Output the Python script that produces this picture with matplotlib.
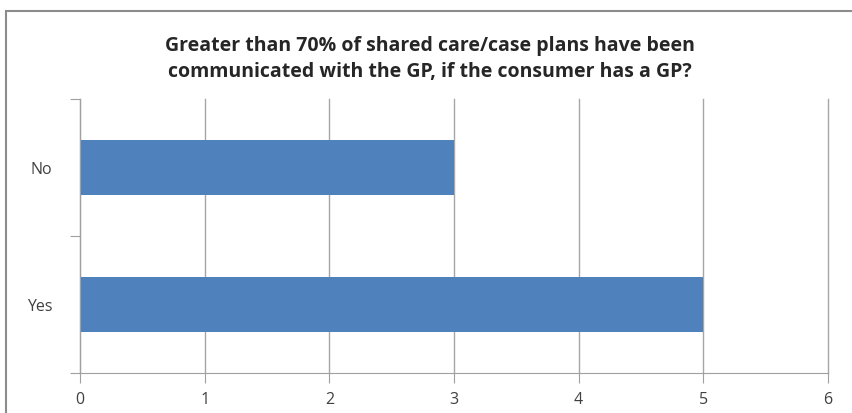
import matplotlib
matplotlib.use("Agg")
import matplotlib.pyplot as plt
from matplotlib.patches import Rectangle

categories = ["Yes", "No"]
values = [5, 3]
x_ticks = [0, 1, 2, 3, 4, 5, 6]
title = "Greater than 70% of shared care/case plans have been\ncommunicated with the GP, if the consumer has a GP?"

plt.rcParams['font.family'] = ['Open Sans', 'DejaVu Sans']

W, H = 852, 414
fig = plt.figure(figsize=(W/100, H/100), dpi=100)
fig.patch.set_facecolor('white')

# outer chart border (cut off on right and bottom)
fig.add_artist(Rectangle((6/W, -0.1), 2.0, (414-12)/H + 0.1, transform=fig.transFigure,
                         fill=False, edgecolor='#8c8c8c', linewidth=1.5))

ax = fig.add_axes([80/W, (H-374)/H, (828-80)/W, (374-100)/H])
ypos = list(range(len(categories)))
ax.barh(ypos, values, height=0.4, color='#4F81BD', zorder=3)
ax.set_xlim(0, 6)
ax.set_ylim(-0.5, len(categories) - 0.5)
ax.set_xticks(x_ticks)
ax.set_xticklabels([str(t) for t in x_ticks], fontsize=11.5, color='#404040')
ax.set_yticks([y - 0.5 for y in range(len(categories) + 1)])
ax.set_yticklabels([])
ax.set_yticks(ypos, minor=True)
ax.set_yticklabels(categories, minor=True, fontsize=11.5, color='#404040')
ax.tick_params(axis='y', which='minor', length=0, pad=20)
ax.tick_params(axis='y', which='major', length=7, color='#a0a0a0')
ax.tick_params(axis='x', length=7, color='#a0a0a0', pad=6)
ax.grid(axis='x', color='#a6a6a6', linewidth=1, zorder=0)
for gl in ax.get_xgridlines():
    gl.set_clip_on(False)
for s in ['top', 'right']:
    ax.spines[s].set_visible(False)
for s in ['left', 'bottom']:
    ax.spines[s].set_color('#a0a0a0')
    ax.spines[s].set_zorder(4)

fig.text(0.505, (H-59)/H, title, ha='center', va='center', fontsize=14,
         fontweight='bold', color='#262626', linespacing=1.45)

fig.savefig("out.png", dpi=100)
